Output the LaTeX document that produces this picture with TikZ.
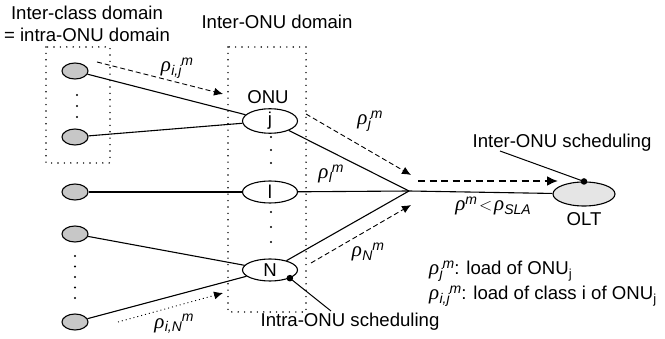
\documentclass[tikz,border=0pt]{standalone}
\usepackage{fontspec}
\setmainfont{Liberation Sans}
\newfontfamily\grk{Liberation Serif}
\usetikzlibrary{arrows.meta,shapes.geometric}
\newcommand{\rh}{{\grk\itshape\fontsize{21}{21}\selectfont ρ}}
\newcommand{\sub}[1]{\raisebox{-3.5pt}{\fontsize{14}{14}\selectfont\itshape #1}}
\newcommand{\sups}[1]{\raisebox{6.5pt}{\fontsize{14}{14}\selectfont\itshape #1}}
\newcommand{\rr}[2]{\rh\kern0.3pt\sub{#1}\sups{#2}}
\begin{document}
\begin{tikzpicture}[x=1pt,y=-1pt,
  every node/.style={font=\fontsize{18.6}{21.5}\selectfont},
  cls/.style={ellipse,draw,line width=1.1pt,fill=black!22,minimum width=26pt,minimum height=16pt,inner sep=0pt},
  onu/.style={ellipse,draw,line width=1.1pt,fill=white,minimum width=55pt,minimum height=22pt,inner sep=0pt},
  link/.style={line width=1.1pt},
  dbox/.style={line width=1.6pt,dash pattern=on 0pt off 6.4pt,line cap=round},
  vdots/.style={line width=2.4pt,line cap=round},
  flow/.style={line width=0.9pt,dash pattern=on 5pt off 3pt,-{Latex[length=9pt,width=8pt]}},
  dotflow/.style={line width=0.9pt,dash pattern=on 1pt off 3pt,-{Latex[length=9pt,width=8pt]}},
  bigflow/.style={line width=2pt,dash pattern=on 7pt off 4.5pt,-{Latex[length=11pt,width=10pt]}},
  lbl/.style={inner sep=1pt}
]
\useasboundingbox (0,0) rectangle (665,339);
% dotted boxes
\draw[dbox] (46,47) rectangle (110,163);
\draw[dbox] (228,47) rectangle (306,312);
% class nodes
\node[cls] (a1) at (75,71) {};
\node[cls] (a2) at (75,137) {};
\node[cls] (b1) at (75,192) {};
\node[cls] (c1) at (75,234) {};
\node[cls] (c2) at (75,322) {};
\foreach \y in {95,106,117} \draw[vdots] (77,\y) -- (77,\y);
\foreach \y in {256,266.5,277,287.5,298} \draw[vdots] (75,\y) -- (75,\y);
% ONU nodes
\node[onu] (j) at (270,121) {j};
\node[onu] (l) at (270,192) {l};
\node[onu] (N) at (270,270) {N};
\node[lbl] (onulbl) at (268,97) {ONU};
\foreach \y in {137,150,163,212,227,242} \draw[vdots] (271,\y) -- (271,\y);
% links
\draw[link] (a1) -- (j);
\draw[link] (a2) -- (j);
\draw[link] (b1) -- (l);
\draw[link] (c1) -- (N);
\draw[link] (c2) -- (N);
\coordinate (c) at (409,191);
\node[ellipse,draw,line width=1.1pt,fill=black!10,minimum width=62pt,minimum height=24pt,inner sep=0pt] (olt) at (584,194) {};
\draw[link] (j) -- (c);
\draw[link] (l) -- (c);
\draw[link] (N) -- (c);
\draw[link] (c) -- (olt);
% flow arrows
\coordinate (f1s) at (97,62); \coordinate (f1e) at (223,94);
\draw[flow] (f1s) -- (f1e);
\coordinate (f2s) at (118,322); \coordinate (f2e) at (223,293);
\draw[dotflow] (f2s) -- (f2e);
\coordinate (f3s) at (306,114); \coordinate (f3e) at (411,175);
\draw[flow] (f3s) -- (f3e);
\coordinate (f4s) at (311,263); \coordinate (f4e) at (411,205);
\draw[flow] (f4s) -- (f4e);
\coordinate (f5s) at (418,181); \coordinate (f5e) at (558,181);
\draw[bigflow] (f5s) -- (f5e);
% scheduling markers
\fill (olt.north) circle (3.3pt);
\node[lbl] (inter) at (562,143) {Inter-ONU scheduling};
\coordinate (interl) at (500,151);
\draw[line width=1pt] (interl) -- (olt.north);
\fill (N.south east) circle (3.3pt);
\node[lbl] (intra) at (350,322) {Intra-ONU scheduling};
\coordinate (intral) at (331,311);
\draw[line width=1pt] (N.south east) -- (intral);
% labels
\node[lbl] (oltlbl) at (584,219) {OLT};
\node[lbl,align=center] (dom1) at (87,24) {Inter-class domain\\= intra-ONU domain};
\node[lbl] (dom2) at (277,22) {Inter-ONU domain};
\node[lbl] (r1) at (177,68) {\rr{i,j}{m}};
\node[lbl] (r2) at (370,121) {\rr{j}{m}};
\node[lbl] (r3) at (331,174) {\rr{l}{m}};
\node[lbl] (r4) at (368,252) {\rr{N}{m}};
\node[lbl] (r5) at (493,206) {\rh\sups{m}\kern2pt$<$\kern2pt\rh\sub{SLA}};
\node[lbl] (r6) at (174,324) {\rr{i,N}{m}};
\node[lbl,anchor=west] (leg1) at (428,271) {\rr{j}{m}: load of ONU\textsubscript{j}};
\node[lbl,anchor=west] (leg2) at (428,296) {\rr{i,j}{m}: load of class i of ONU\textsubscript{j}};
\end{tikzpicture}
\end{document}
